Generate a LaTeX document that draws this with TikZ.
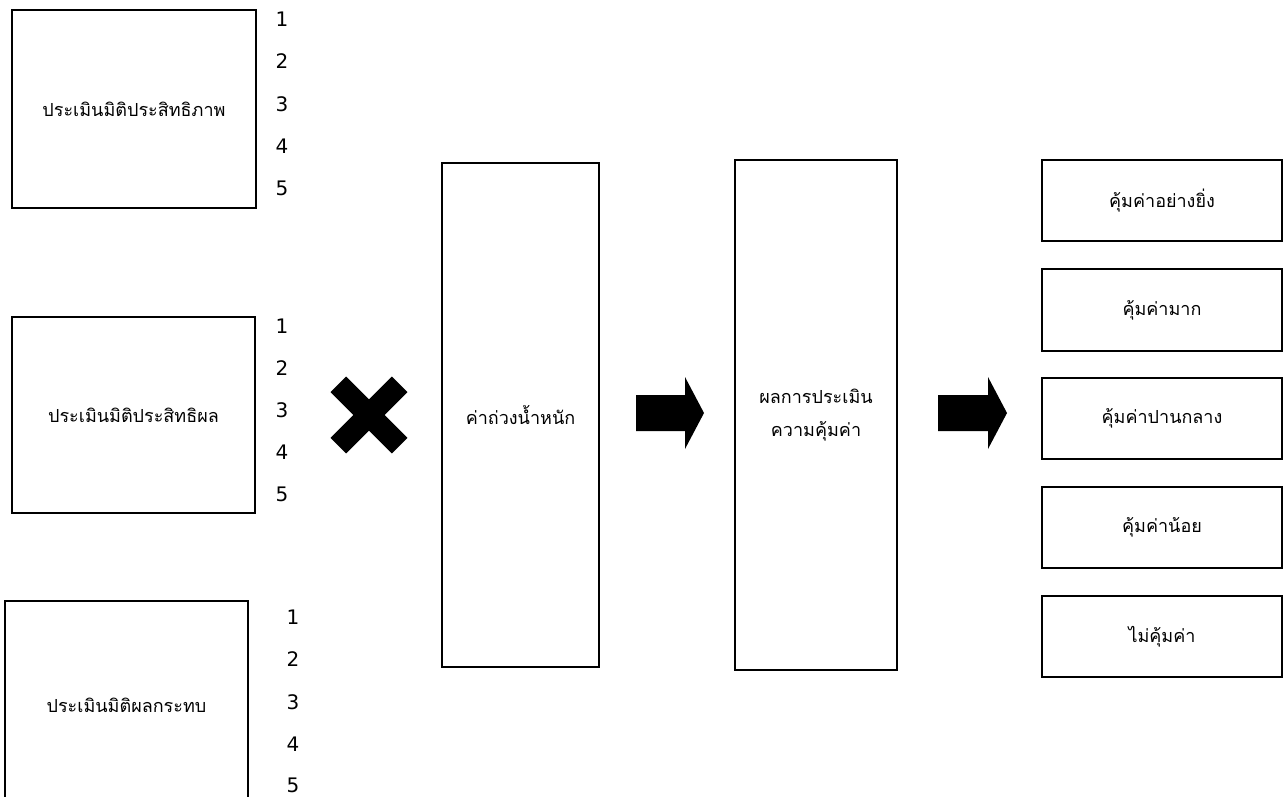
\documentclass[tikz,border=0pt]{standalone}
\usepackage{fontspec}
\usetikzlibrary{calc}
\newfontfamily\thaifont[Script=Thai]{Loma}
\newfontfamily\digitfont{DejaVu Sans}
\begin{document}
\begin{tikzpicture}[x=1pt,y=-1pt,
  box/.style={draw=black,line width=2pt,fill=white,inner sep=0pt,font=\thaifont\fontsize{18}{33}\selectfont,align=center},
  num/.style={inner sep=0pt,font=\digitfont\fontsize{20}{22}\selectfont},
  blockarrow/.style={fill=black,draw=none},
  cross/.style={line width=22pt,line cap=butt,draw=black}]
\useasboundingbox (0,0) rectangle (1285,796);
\clip (0,0) rectangle (1285,796);
% left boxes
\node[box,minimum width=244pt,minimum height=198pt] (b1) at (134,109) {ประเมินมิติประสิทธิภาพ};
\node[box,minimum width=243pt,minimum height=196pt] (b2) at (133.5,415) {ประเมินมิติประสิทธิผล};
\node[box,minimum width=243pt,minimum height=208pt] (b3) at (126.5,705) {ประเมินมิติผลกระทบ};
% numbers
\foreach \i/\y in {1/19,2/61,3/104,4/146,5/188}{\node[num] (n1\i) at (282,\y) {\i};}
\foreach \i/\y in {1/326,2/368,3/410,4/452,5/494}{\node[num] (n2\i) at (282,\y) {\i};}
\foreach \i/\y in {1/617,2/659,3/702,4/744,5/785}{\node[num] (n3\i) at (293,\y) {\i};}
% cross
\coordinate (xc) at (369,415);
\draw[cross] ($(xc)+(-30.7,-30.7)$) -- ($(xc)+(30.7,30.7)$);
\draw[cross] ($(xc)+(-30.7,30.7)$) -- ($(xc)+(30.7,-30.7)$);
% middle boxes
\node[box,minimum width=157pt,minimum height=504pt] (w) at (520.5,415) {ค่าถ่วงน้ำหนัก};
\node[box,minimum width=162pt,minimum height=510pt] (r) at (816,415) {ผลการประเมิน\\ความคุ้มค่า};
% block arrows
\fill[blockarrow] (636,395) -- (685,395) -- (685,377) -- (704,413) -- (685,449) -- (685,431) -- (636,431) -- cycle;
\fill[blockarrow] (938,395) -- (988,395) -- (988,377) -- (1007,413) -- (988,449) -- (988,431) -- (938,431) -- cycle;
% right boxes
\node[box,minimum width=240pt,minimum height=81pt] (o1) at (1162,200.5) {คุ้มค่าอย่างยิ่ง};
\node[box,minimum width=240pt,minimum height=82pt] (o2) at (1162,310) {คุ้มค่ามาก};
\node[box,minimum width=240pt,minimum height=81pt] (o3) at (1162,418.5) {คุ้มค่าปานกลาง};
\node[box,minimum width=240pt,minimum height=81pt] (o4) at (1162,527.5) {คุ้มค่าน้อย};
\node[box,minimum width=240pt,minimum height=81pt] (o5) at (1162,636.5) {ไม่คุ้มค่า};
\end{tikzpicture}
\end{document}
